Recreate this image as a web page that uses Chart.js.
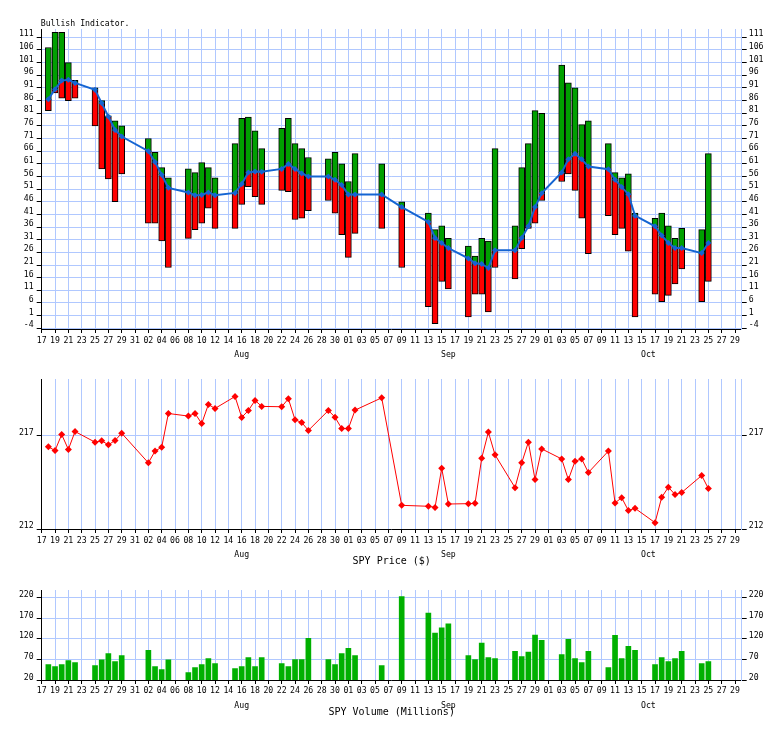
<!DOCTYPE html>
<html><head><meta charset="utf-8">
<script src="https://cdn.jsdelivr.net/npm/chart.js@4"></script>
<style>
html,body{margin:0;padding:0;background:#fff;}
#wrap{position:relative;width:784px;height:729px;background:#fff;}
.p{position:absolute;left:0;width:784px;}
</style></head><body>
<div id="wrap">
<div class="p" style="top:0;height:363px"><canvas id="c1"></canvas></div>
<div class="p" style="top:363px;height:205px"><canvas id="c2"></canvas></div>
<div class="p" style="top:568px;height:151px"><canvas id="c3"></canvas></div>
</div>
<script>
// ---- data ----
const dates = [
 '2016-07-18','2016-07-19','2016-07-20','2016-07-21','2016-07-22',
 '2016-07-25','2016-07-26','2016-07-27','2016-07-28','2016-07-29',
 '2016-08-02','2016-08-03','2016-08-04','2016-08-05','2016-08-08','2016-08-09','2016-08-10','2016-08-11','2016-08-12',
 '2016-08-15','2016-08-16','2016-08-17','2016-08-18','2016-08-19',
 '2016-08-22','2016-08-23','2016-08-24','2016-08-25','2016-08-26',
 '2016-08-29','2016-08-30','2016-08-31',
 '2016-09-01','2016-09-02','2016-09-06','2016-09-09','2016-09-13','2016-09-14','2016-09-15','2016-09-16',
 '2016-09-19','2016-09-20','2016-09-21','2016-09-22','2016-09-23',
 '2016-09-26','2016-09-27','2016-09-28','2016-09-29','2016-09-30',
 '2016-10-03','2016-10-04','2016-10-05','2016-10-06','2016-10-07',
 '2016-10-10','2016-10-11','2016-10-12','2016-10-13','2016-10-14',
 '2016-10-17','2016-10-18','2016-10-19','2016-10-20','2016-10-21',
 '2016-10-24','2016-10-25'
];
const bullHigh = [
 107,113,113,101,94,
 91,86,80,78,76,
 71,65.5,59.5,55.5,59,57.5,61.5,59.5,55.5,
 69,79,79.5,74,67,
 75,79,69,67,63.5,
 63,65.5,61,
 54,65,61,46,41.5,35,36.5,31.5,
 28.5,24.5,31.5,30.5,67,
 36.5,59.5,69,82,81,
 100,93,91,76.5,78,
 69,57.5,55.5,57,41.5,
 39.5,41.5,36.5,31.5,35.5,
 35,65
];
const bullLine = [
 86.5,90.5,93.9,94.2,93,
 90.3,85,79.7,74.4,71.8,
 66,61.7,56.7,51.5,49.7,48.6,48.7,49.7,48.6,
 49.5,53,57.6,58,57.9,
 59,60.9,59,57.2,56,
 56,54.7,52.6,
 48.9,48.9,48.9,43.9,38,31.7,29.7,27.7,
 23.6,21.7,21.4,19.8,26.8,
 26.8,31.7,36.3,43.9,49.4,
 57.6,62.8,65,62.8,59.9,
 58.9,54.7,51.8,49,40.5,
 36.3,32.7,29.7,27.7,27.7,
 25.7,29.7
];
const bullLow = [
 82,89,87,86,87,
 76,59,55,46,57,
 37.5,37.5,30.5,20,31.5,35,37.5,43.5,35.5,
 35.5,45,52,48,45,
 50.5,50,39,39.5,42.5,
 46.5,41.5,33,
 24,33.5,35.5,20,4.5,-2.2,14.5,11.5,
 0.5,9.5,9.5,2.5,20,
 15.5,27.5,35.5,37.5,46.5,
 54,57,50.5,39.5,25.5,
 40.5,33,35.5,26.5,0.5,
 9.5,6.5,9,13.5,19.5,
 6.5,14.5
];
const spyPrice = [
 216.41,216.21,217.07,216.27,217.23,
 216.66,216.73,216.52,216.75,217.14,
 215.55,216.18,216.39,218.2,218.06,218.2,217.66,218.68,218.47,
 219.11,217.99,218.36,218.9,218.58,
 218.56,218.99,217.86,217.72,217.29,
 218.36,218.0,217.39,
 217.39,218.38,219.04,213.27,213.22,213.16,215.26,213.34,
 213.36,213.38,215.8,217.2,215.98,
 214.22,215.55,216.66,214.65,216.3,
 215.76,214.65,215.64,215.76,215.03,
 216.18,213.4,213.68,212.99,213.11,
 212.34,213.7,214.24,213.85,213.96,
 214.87,214.17
];
const spyVolume = [
 57.4,52.5,57.4,67.2,62.3,
 55,68.8,84.2,64.7,79.3,
 91.5,52.5,45.2,68.8,37.9,50.1,57.4,72,59.8,
 47.6,52.5,74.5,52.5,74.5,
 59.8,52.5,69.6,69.6,120.8,
 69.6,57.4,84.2,
 96.4,79.3,55,222,181.8,133.8,146,155.8,
 79.3,69.6,109.4,74.5,72,
 89.1,76.9,87.5,128.9,115.9,
 81.8,118.4,72,62.3,89.1,
 50.1,128.1,72,101.3,91.5,
 57.4,74.5,64.7,72,89.1,
 59.8,64.7
];
const bullTicks = [111,106,101,96,91,86,81,76,71,66,61,56,51,46,41,36,31,26,21,16,11,6,1,-4];
const priceTicks = [217,212];
const volumeTicks = [220,170,120,70,20];
const monthLabels = ['Aug','Sep','Oct'];
const monthDates = ['2016-08-16','2016-09-16','2016-10-16'];
const startDate = '2016-07-17';
const endDate = '2016-10-30';

// ---- helpers ----
const DAY = 86400000;
const dayIndex = d => Math.round((Date.parse(d) - Date.parse(startDate)) / DAY);
const xMax = dayIndex(endDate);
const dayTickVals = [];
const dayTickLabels = [];
for (let i = 0; i < xMax; i += 2) {
  const dt = new Date(Date.parse(startDate) + i * DAY);
  dayTickVals.push(i);
  dayTickLabels.push(String(dt.getUTCDate()).padStart(2, '0'));
}
const monthTickVals = monthDates.map(dayIndex);
const xs = dates.map(dayIndex);
const pts = arr => arr.map((v, i) => ({x: xs[i], y: v}));
const spans = (a, b) => a.map((v, i) => ({x: xs[i], y: [v, b[i]]}));

const MONO = "'DejaVu Sans Mono', monospace";
const GRID = '#b0c8ff';
const BLUE = '#1464d2';

function xScales(dayPad, monthH, titleText) {
  return {
    x: {
      type: 'linear', position: 'bottom', min: 0, max: xMax, offset: false, weight: 0,
      afterBuildTicks: s => { s.ticks = dayTickVals.map(v => ({value: v})); },
      afterFit: s => { s.height = 17; },
      ticks: {autoSkip: false, maxRotation: 0, minRotation: 0, padding: dayPad, color: '#000',
              font: {family: MONO, size: 8.2}, callback: (v, i) => dayTickLabels[i]},
      grid: {color: GRID, tickColor: '#000', tickLength: 4, offset: false},
      border: {color: '#000'}
    },
    xm: {
      type: 'linear', position: 'bottom', min: 0, max: xMax, offset: false, weight: 1,
      afterBuildTicks: s => { s.ticks = monthTickVals.map(v => ({value: v})); },
      afterFit: s => { s.height = monthH; },
      ticks: {autoSkip: false, maxRotation: 0, minRotation: 0, padding: 4, color: '#000',
              font: {family: MONO, size: 8.2}, callback: (v, i) => monthLabels[i]},
      grid: {display: false, drawTicks: false, tickLength: 0, offset: false},
      border: {display: false},
      title: titleText ? {display: true, text: titleText, color: '#000',
              font: {family: MONO, size: 10}, padding: {top: 0, bottom: 1}} : {display: false}
    }
  };
}
function yScale(pos, min, max, tickVals, labelOffset) {
  const left = pos === 'left';
  return {
    type: 'linear', position: pos, min: min, max: max,
    afterBuildTicks: s => { s.ticks = tickVals.map(v => ({value: v})); },
    afterFit: s => { s.width = left ? 41.7 : 42.3; },
    ticks: {autoSkip: false, padding: left ? 3 : 2, labelOffset: labelOffset, color: '#000',
            font: {family: MONO, size: 8.2}, callback: v => String(v)},
    grid: left ? {color: GRID, tickColor: '#000', tickLength: 5}
               : {drawOnChartArea: false, tickColor: '#000', tickLength: 5},
    border: {color: left ? '#000' : GRID}
  };
}
const cornerTitle = {
  id: 'cornerTitle',
  afterDraw(chart, args, opts) {
    if (!opts || !opts.text) return;
    const ctx = chart.ctx;
    ctx.save();
    ctx.font = '8.2px ' + MONO;
    ctx.fillStyle = '#000';
    ctx.textAlign = 'left';
    ctx.textBaseline = 'middle';
    ctx.fillText(opts.text, chart.chartArea.left - 1, opts.y);
    ctx.restore();
  }
};
const base = {
  responsive: true, maintainAspectRatio: false, animation: false, devicePixelRatio: 1,
  events: []
};

// ---- Bullish indicator ----
new Chart(document.getElementById('c1'), {
  type: 'bar',
  plugins: [cornerTitle],
  data: {datasets: [
    {type: 'line', data: pts(bullLine), borderColor: BLUE, borderWidth: 2, tension: 0,
     pointStyle: 'rectRot', pointRadius: 3, pointBackgroundColor: BLUE, pointBorderWidth: 0,
     order: 0, xAxisID: 'x', yAxisID: 'y'},
    {data: spans(bullLow, bullLine), backgroundColor: '#ff0000', borderColor: '#000', borderWidth: 1,
     borderSkipped: false, grouped: false, barThickness: 6, order: 1, xAxisID: 'x', yAxisID: 'y'},
    {data: spans(bullLine, bullHigh), backgroundColor: '#00a000', borderColor: '#000', borderWidth: 1,
     borderSkipped: false, grouped: false, barThickness: 6, order: 2, xAxisID: 'x', yAxisID: 'y'}
  ]},
  options: Object.assign({}, base, {
    layout: {padding: {top: 29, left: 0, right: 0, bottom: 0}},
    plugins: {legend: {display: false}, tooltip: {enabled: false},
              cornerTitle: {text: 'Bullish Indicator.', y: 24}},
    scales: Object.assign(xScales(3, 17, null), {
      y: yScale('left', -4.3, 114.3, bullTicks, -3),
      y2: yScale('right', -4.3, 114.3, bullTicks, -3)
    })
  })
});

// ---- SPY price ----
new Chart(document.getElementById('c2'), {
  type: 'line',
  data: {datasets: [
    {data: pts(spyPrice), borderColor: '#ff0000', borderWidth: 1, tension: 0,
     pointStyle: 'rectRot', pointRadius: 3.5, pointBackgroundColor: '#ff0000', pointBorderWidth: 0,
     xAxisID: 'x', yAxisID: 'y'}
  ]},
  options: Object.assign({}, base, {
    layout: {padding: {top: 16, left: 0, right: 0, bottom: 0}},
    plugins: {legend: {display: false}, tooltip: {enabled: false}},
    scales: Object.assign(xScales(3, 22, 'SPY Price ($)'), {
      y: yScale('left', 212, 220.05, priceTicks, -3),
      y2: yScale('right', 212, 220.05, priceTicks, -3)
    })
  })
});

// ---- SPY volume ----
new Chart(document.getElementById('c3'), {
  type: 'bar',
  data: {datasets: [
    {data: pts(spyVolume), backgroundColor: '#00b000', borderWidth: 0, barThickness: 5,
     grouped: false, xAxisID: 'x', yAxisID: 'y'}
  ]},
  options: Object.assign({}, base, {
    layout: {padding: {top: 22, left: 0, right: 0, bottom: 0}},
    plugins: {legend: {display: false}, tooltip: {enabled: false}},
    scales: Object.assign(xScales(2, 22, 'SPY Volume (Millions)'), {
      y: yScale('left', 20, 237.8, volumeTicks, -2.5),
      y2: yScale('right', 20, 237.8, volumeTicks, -2.5)
    })
  })
});
</script>
</body></html>
